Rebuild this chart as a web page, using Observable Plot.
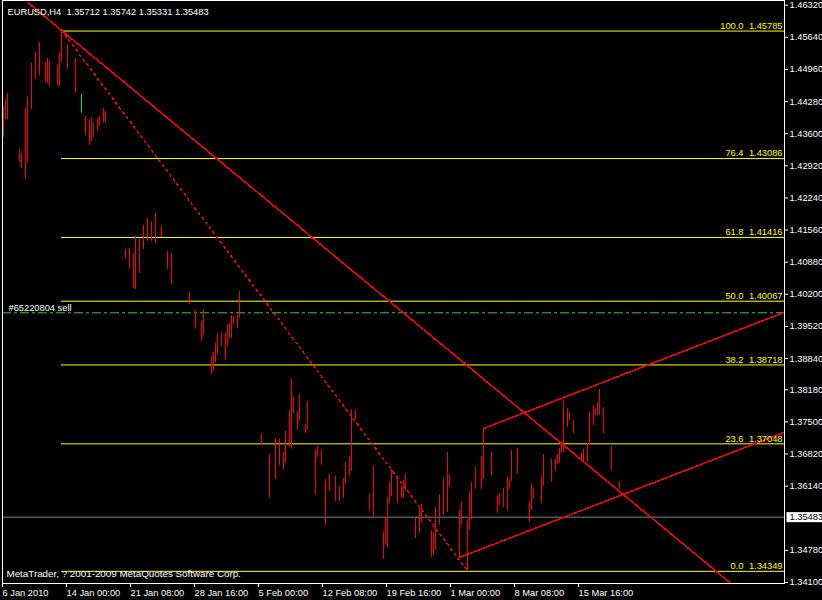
<!DOCTYPE html>
<html><head><meta charset="utf-8">
<script src="https://cdn.jsdelivr.net/npm/d3@7"></script>
<script src="https://cdn.jsdelivr.net/npm/@observablehq/plot@0.6"></script>
<style>
html,body{margin:0;padding:0;background:#000;}
svg text{white-space:pre;}
</style>
</head><body>
<div id="chart"></div>
<script>
// ---------- data ----------
const symbolTitle = "EURUSD,H4  1.35712 1.35742 1.35331 1.35483";
const copyright = "MetaTrader, ? 2001-2009 MetaQuotes Software Corp.";

// H4 bars (index = bar number from the left edge), high and low prices
const barIndex = [0,1,2,8,9,11,12,14,16,18,21,22,23,27,28,29,32,36,41,43,44,45,47,48,50,51,
  61,63,65,66,68,70,72,74,76,79,82,84,93,96,99,100,104,105,106,107,109,111,112,113,114,115,117,118,
  129,133,136,138,140,141,143,144,145,147,148,151,152,156,157,159,161,163,166,168,170,171,173,174,176,
  183,185,190,191,192,193,194,197,199,200,201,206,208,209,214,215,216,218,220,222,223,228,229,232,233,
  234,236,239,240,244,247,248,250,252,253,254,257,263,264,265,269,270,274,276,277,278,279,280,282,283,
  285,289,290,292,293,295,296,297,298,300,304,308];
const barHigh = [1.4415,1.4432,1.4445,1.4327,1.4318,1.4413,1.4437,1.4509,1.4532,1.4553,1.4511,1.4519,1.4513,1.4504,1.4530,1.45785,1.4547,1.4519,1.4396,1.4390,1.4394,1.4382,1.4390,1.4398,1.4413,1.4407,
  1.4115,1.4117,1.4106,1.4142,1.4136,1.4166,1.4180,1.4174,1.4191,1.4164,1.4111,1.4106,1.4024,1.3986,1.3962,1.3988,1.3888,1.3897,1.3916,1.3935,1.3939,1.3937,1.3956,1.3958,1.3975,1.3973,1.3975,1.4026,
  1.3725,1.3681,1.3715,1.3713,1.3685,1.3730,1.3774,1.3840,1.3804,1.3772,1.3808,1.3744,1.3793,1.3690,1.3698,1.3690,1.3628,1.3639,1.3635,1.3613,1.3630,1.3664,1.3677,1.3776,1.3776,
  1.3596,1.3656,1.3518,1.3548,1.3588,1.3620,1.3649,1.3635,1.3613,1.3626,1.3639,1.3546,1.3571,1.3575,1.3520,1.3516,1.3569,1.3596,1.3630,1.3685,1.3637,1.3562,1.3581,1.3543,1.3601,
  1.3622,1.3654,1.3677,1.3736,1.3685,1.3594,1.3598,1.3609,1.3633,1.3628,1.3690,1.3694,1.3581,1.3618,1.3609,1.3633,1.3681,1.3671,1.3671,1.3681,1.3694,1.3707,1.3797,1.3778,1.3770,
  1.3753,1.3683,1.3692,1.3704,1.3770,1.3785,1.3778,1.3791,1.3819,1.3780,1.3698,1.3624];
const barLow = [1.4352,1.4390,1.4390,1.4299,1.4286,1.4263,1.4299,1.4411,1.4475,1.4483,1.4468,1.4466,1.4460,1.4462,1.4460,1.4511,1.4496,1.4445,1.4356,1.4335,1.4343,1.4352,1.4365,1.4375,1.4382,1.4382,
  1.4094,1.4073,1.4032,1.4030,1.4064,1.4115,1.4132,1.4132,1.4128,1.4140,1.4073,1.4041,1.3998,1.3946,1.3920,1.3933,1.3852,1.3857,1.3876,1.3891,1.3910,1.3881,1.3910,1.3925,1.3927,1.3956,1.3948,1.3969,
  1.3702,1.3588,1.3628,1.3658,1.3649,1.3662,1.3698,1.3692,1.3768,1.3732,1.3751,1.3725,1.3732,1.3596,1.3675,1.3658,1.3531,1.3603,1.3581,1.3581,1.3588,1.3618,1.3635,1.3645,1.3755,
  1.3562,1.3548,1.3459,1.3488,1.3484,1.3577,1.3592,1.3577,1.3588,1.3588,1.3603,1.3503,1.3514,1.3535,1.3463,1.3467,1.3478,1.3531,1.3552,1.3558,1.3611,1.3463,1.3531,1.34349,1.3520,
  1.3543,1.3607,1.3607,1.3628,1.3635,1.3556,1.3573,1.3569,1.3562,1.3607,1.3624,1.3639,1.3537,1.3562,1.3586,1.3577,1.3613,1.3622,1.3645,1.3660,1.3662,1.3683,1.3685,1.3738,1.3753,
  1.3725,1.3666,1.3666,1.3664,1.3700,1.3742,1.3763,1.3763,1.3763,1.3725,1.3647,1.3607];
const greenBarIndex = [39];
const greenBarHigh = [1.4443];
const greenBarLow = [1.4403];

const visibleBars = [-0.5, 390.5];
const priceDomain = [1.34079, 1.46419];

const timeTickIndex = [0,32,64,96,128,160,192,224,256,288];
const timeTickLabels = ["6 Jan 2010","14 Jan 00:00","21 Jan 08:00","28 Jan 16:00","5 Feb 00:00","12 Feb 08:00","19 Feb 16:00","1 Mar 00:00","8 Mar 08:00","15 Mar 16:00"];
const priceTicks = [1.46320,1.45640,1.44960,1.44280,1.43600,1.42920,1.42240,1.41560,1.40880,1.40200,1.39520,1.38840,1.38180,1.37500,1.36820,1.36140,1.34780,1.34100];

const fibLevels = ["100.0","76.4","61.8","50.0","38.2","23.6","0.0"];
const fibPrices = [1.45785,1.43086,1.41416,1.40067,1.38718,1.37048,1.34349];
const fibAnchorIndex = [29, 232];
const fibAnchorPrice = [1.45785, 1.34349];

const trendIndex = [12, 364];
const trendPrice = [1.4638, 1.3407];
const channelLowIndex = [228, 390.5];
const channelLowPrice = [1.3463, 1.3728];
const channelHighIndex = [240, 390.5];
const channelHighPrice = [1.3736, 1.3982];

const orderLabel = "#65220804 sell";
const orderPrice = 1.39809;
const currentPrice = 1.35483;

// ---------- tables ----------
const bars = barIndex.map((i, k) => ({i, high: barHigh[k], low: barLow[k]}));
const greenBars = greenBarIndex.map((i, k) => ({i, high: greenBarHigh[k], low: greenBarLow[k]}));
const fibs = fibPrices.map((p, k) => ({p, level: fibLevels[k], label: p.toFixed(5)}));
const pts = (xs, ys) => xs.map((x, k) => ({x, y: ys[k]}));

const RED = "#ff0000", YEL = "#ffff00";
const font = "Liberation Sans, Arial, sans-serif";

const chart = Plot.plot({
  width: 822, height: 600,
  marginLeft: 2, marginRight: 38, marginTop: 0, marginBottom: 17,
  style: {background: "#000", color: "#fff", fontFamily: font, fontSize: "9.3px"},
  x: {domain: visibleBars},
  y: {domain: priceDomain},
  marks: [
    Plot.ruleY(fibs, {y: "p", x1: fibAnchorIndex[0], x2: visibleBars[1], stroke: YEL, dy: 0.6}),
    Plot.ruleY([currentPrice], {stroke: "#778899"}),
    Plot.ruleY([orderPrice], {stroke: "#32cd32", strokeDasharray: "9,3,3,3"}),
    Plot.ruleX(bars, {x: "i", y1: "low", y2: "high", stroke: RED}),
    Plot.ruleX(greenBars, {x: "i", y1: "low", y2: "high", stroke: "#32cd32"}),
    Plot.line(pts(fibAnchorIndex, fibAnchorPrice), {x: "x", y: "y", stroke: RED, strokeDasharray: "2,4", shapeRendering: "crispEdges", clip: true}),
    Plot.line(pts(trendIndex, trendPrice), {x: "x", y: "y", stroke: RED, shapeRendering: "crispEdges", clip: true}),
    Plot.line(pts(channelLowIndex, channelLowPrice), {x: "x", y: "y", stroke: RED, shapeRendering: "crispEdges", clip: true}),
    Plot.line(pts(channelHighIndex, channelHighPrice), {x: "x", y: "y", stroke: RED, shapeRendering: "crispEdges", clip: true}),
    Plot.text(fibs, {y: "p", text: "label", frameAnchor: "right", textAnchor: "end", lineAnchor: "bottom", dx: -2, dy: -1.5, fill: YEL}),
    Plot.text(fibs, {y: "p", text: "level", frameAnchor: "right", textAnchor: "end", lineAnchor: "bottom", dx: -41, dy: -1.5, fill: YEL}),
    Plot.text([orderLabel], {y: orderPrice, frameAnchor: "left", textAnchor: "start", lineAnchor: "bottom", dx: 6, dy: -2, fill: "#fff"}),
    Plot.text([symbolTitle], {frameAnchor: "top-left", textAnchor: "start", lineAnchor: "bottom", dx: 5, dy: 14, fill: "#fff", fontSize: 9.3}),
    Plot.text([copyright], {frameAnchor: "bottom-left", textAnchor: "start", lineAnchor: "bottom", dx: 4, dy: -7, fill: "#fff", fontSize: 9.8}),
    Plot.axisY({anchor: "right", ticks: priceTicks, tickFormat: d => d.toFixed(5), tickSize: 3, tickPadding: 2, label: null, stroke: "#fff", fill: "#fff"}),
    Plot.axisX({anchor: "bottom", ticks: timeTickIndex, tickFormat: d => timeTickLabels[timeTickIndex.indexOf(d)], tickSize: 4, tickPadding: 2, textAnchor: "start", dx: -1, label: null, stroke: "#fff", fill: "#fff"}),
    Plot.frame({stroke: "#fff"}),
    Plot.text([currentPrice], {y: d => d, text: d => d.toFixed(5), frameAnchor: "right", textAnchor: "start", lineAnchor: "middle", dx: 5, fill: "#000"})
  ]
});
document.getElementById("chart").appendChild(chart);

// white box behind the current-price tag on the price axis
const tag = currentPrice.toFixed(5);
Array.from(chart.querySelectorAll("text")).filter(t => t.textContent === tag).forEach(t => {
  const b = t.getBBox();
  const r = document.createElementNS("http://www.w3.org/2000/svg", "rect");
  r.setAttribute("x", b.x - 3); r.setAttribute("y", b.y);
  r.setAttribute("width", b.width + 12); r.setAttribute("height", b.height);
  r.setAttribute("fill", "#fff");
  const tr = t.getAttribute("transform");
  if (tr) r.setAttribute("transform", tr);
  t.parentNode.insertBefore(r, t);
});
</script>
</body></html>
